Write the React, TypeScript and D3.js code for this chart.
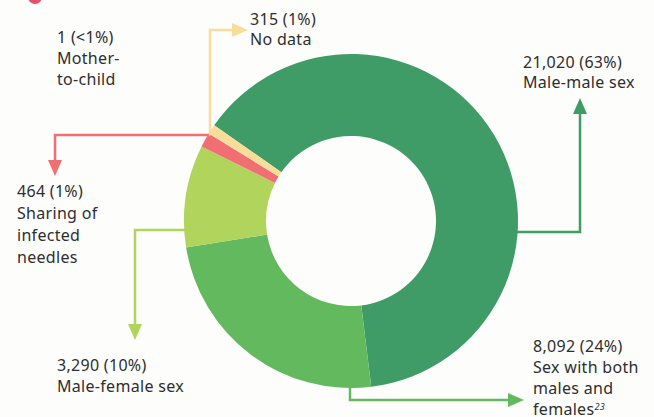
import { useMemo } from "react";
import * as d3 from "d3";

const WIDTH = 654;
const HEIGHT = 417;

// exposure categories, clockwise from the upper left
const categories = [
  "Male-male sex",
  "Sex with both males and females",
  "Male-female sex",
  "Sharing of infected needles",
  "No data",
  "Mother-to-child",
];
const counts = [21020, 8092, 3290, 464, 315, 1];
const countLabels = ["21,020", "8,092", "3,290", "464", "315", "1"];
const percentLabels = ["63%", "24%", "10%", "1%", "1%", "<1%"];
const colors = ["#3f9c66", "#63b95e", "#b1d45d", "#ef6f72", "#f8dc9a", "#f6c2a0"];

// wrapped label lines for each category
const labelLines = [
  ["Male-male sex"],
  ["Sex with both", "males and", "females"],
  ["Male-female sex"],
  ["Sharing of", "infected", "needles"],
  ["No data"],
  ["Mother-", "to-child"],
];

const CX = 351;
const CY = 221;
const R_OUT = 167;
const R_IN = 85;
const START = (-55 * Math.PI) / 180;

const FONT = "'Noto Sans', 'Open Sans', sans-serif";
const TEXT = "#2e2e2e";

const Arrow = ({ x, y, dir, color }) => {
  // triangle with its tip at (x, y)
  const L = 16;
  const W = 7;
  let pts;
  if (dir === "up") pts = [[x, y], [x - W, y + L], [x + W, y + L]];
  else if (dir === "down") pts = [[x, y], [x - W, y - L], [x + W, y - L]];
  else pts = [[x, y], [x - L, y - W], [x - L, y + W]];
  return <polygon points={pts.map((p) => p.join(",")).join(" ")} fill={color} />;
};

const Label = ({ x, y, i, lh, superscript }) => (
  <text x={x} y={y} fontFamily={FONT} fontSize={16} fill={TEXT} letterSpacing={0.3}>
    <tspan x={x} dy={0}>{`${countLabels[i]} (${percentLabels[i]})`}</tspan>
    {labelLines[i].map((l, k) => (
      <tspan key={k} x={x} dy={lh}>
        {l}
        {superscript && k === labelLines[i].length - 1 ? (
          <tspan fontSize={9} dy={-5} fontStyle="italic">23</tspan>
        ) : null}
      </tspan>
    ))}
  </text>
);

export default function App() {
  const arcs = useMemo(() => {
    const pie = d3
      .pie<number>()
      .sort(null)
      .startAngle(START)
      .endAngle(START + 2 * Math.PI);
    return pie(counts);
  }, []);

  const arcGen = d3.arc<d3.PieArcDatum<number>>().innerRadius(R_IN).outerRadius(R_OUT);

  // points on the outer edge of the ring where leader lines leave it
  const edgeX = (y, side) => CX + side * Math.sqrt(R_OUT * R_OUT - (y - CY) * (y - CY));
  const edgeY = (x, side) => CY + side * Math.sqrt(R_OUT * R_OUT - (x - CX) * (x - CX));

  const lw = 2.5;
  const mmY = 232;
  const bothX = 350;
  const mfY = 230;
  const ndlY = 135;
  const ndX = 210;

  return (
    <svg width={WIDTH} height={HEIGHT} style={{ position: "absolute", left: 0, top: 0, background: "#fff" }}>
      <rect width={WIDTH} height={HEIGHT} fill="#fdfdfc" />
      <circle cx={35} cy={-3} r={7} fill="#e8506a" />

      <g transform={`translate(${CX},${CY})`}>
        {arcs.map((a, i) => (
          <path key={categories[i]} d={arcGen(a) || ""} fill={colors[i]} />
        ))}
      </g>

      {/* Male-male sex */}
      <polyline
        points={`${edgeX(mmY, 1) - 2},${mmY} 580,${mmY} 580,112`}
        fill="none"
        stroke={colors[0]}
        strokeWidth={lw}
      />
      <Arrow x={580} y={98} dir="up" color={colors[0]} />
      <Label x={523} y={68} i={0} lh={20} />

      {/* Sex with both males and females */}
      <polyline
        points={`${bothX},${edgeY(bothX, 1) - 2} ${bothX},400 510,400`}
        fill="none"
        stroke={colors[1]}
        strokeWidth={lw}
      />
      <Arrow x={524} y={400} dir="right" color={colors[1]} />
      <Label x={533} y={352} i={1} lh={21} superscript />

      {/* Male-female sex */}
      <polyline
        points={`${edgeX(mfY, -1) + 2},${mfY} 135,${mfY} 135,326`}
        fill="none"
        stroke={colors[2]}
        strokeWidth={lw}
      />
      <Arrow x={135} y={340} dir="down" color={colors[2]} />
      <Label x={57} y={371} i={2} lh={21} />

      {/* Sharing of infected needles */}
      <polyline
        points={`${edgeX(ndlY, -1) + 2},${ndlY} 55,${ndlY} 55,162`}
        fill="none"
        stroke={colors[3]}
        strokeWidth={lw}
      />
      <Arrow x={55} y={176} dir="down" color={colors[3]} />
      <Label x={17} y={197} i={3} lh={22} />

      {/* No data */}
      <polyline
        points={`${ndX},${edgeY(ndX, -1) + 4} ${ndX},30 236,30`}
        fill="none"
        stroke={colors[4]}
        strokeWidth={lw}
      />
      <Arrow x={248} y={30} dir="right" color={colors[4]} />
      <Label x={250} y={25} i={4} lh={20} />

      {/* Mother-to-child */}
      <Label x={57} y={43} i={5} lh={21} />
    </svg>
  );
}
